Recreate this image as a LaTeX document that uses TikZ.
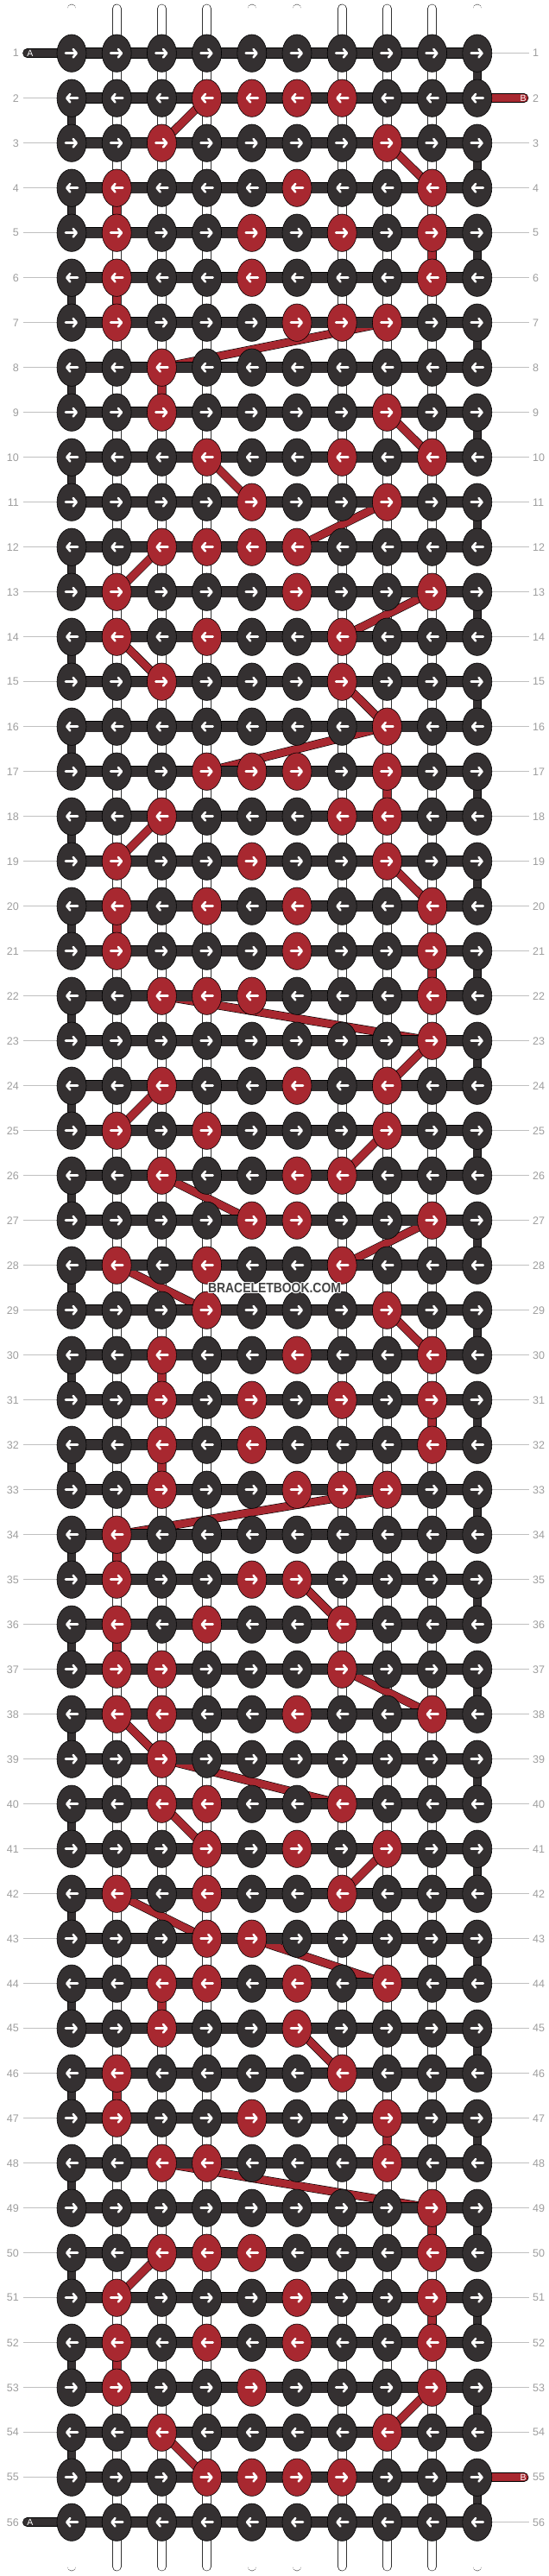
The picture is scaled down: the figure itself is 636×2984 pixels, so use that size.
\documentclass[tikz,border=0pt]{standalone}
\usepackage{fontspec}
\setmainfont{Liberation Sans}
\usepackage{tikz}
\usetikzlibrary{shapes.geometric, arrows.meta}
\definecolor{dark}{RGB}{52, 48, 49}
\definecolor{bred}{RGB}{168, 40, 48}
\definecolor{gray60}{RGB}{158, 158, 158}
\definecolor{gray75}{RGB}{192, 192, 192}
\definecolor{wmgray}{RGB}{68, 68, 68}
\pgfdeclarelayer{bg}
\pgfdeclarelayer{strings}
\pgfdeclarelayer{links}
\pgfdeclarelayer{bars}
\pgfsetlayers{bg, strings, links, bars, main}

% red knots: row/{columns}
\newcommand{\redrows}{2/{4,5,6,7}, 3/{3,8}, 4/{2,6,9}, 5/{2,5,7,9}, 6/{2,5,9},
  7/{2,6,7,8}, 8/{3}, 9/{3,8}, 10/{4,7,9}, 11/{5,8}, 12/{3,4,5,6}, 13/{2,6,9},
  14/{2,4,7}, 15/{3,7}, 16/{8}, 17/{4,5,6,8}, 18/{3,7,8}, 19/{2,5,8},
  20/{2,4,6,9}, 21/{2,6,9}, 22/{3,4,5,9}, 23/{9}, 24/{3,6,8}, 25/{2,4,8},
  26/{3,6,7}, 27/{5,6,9}, 28/{2,4,7}, 29/{4,8}, 30/{3,6,9}, 31/{3,5,7,9},
  32/{3,5,9}, 33/{3,6,7,8}, 34/{2}, 35/{2,5,6}, 36/{2,4,7}, 37/{2,3,7},
  38/{2,3,6,9}, 39/{3}, 40/{3,4,7}, 41/{4,6,8}, 42/{2,4,7}, 43/{4,5},
  44/{3,4,6,8}, 45/{3,6}, 46/{2,7}, 47/{2,5,8}, 48/{3,4,8}, 49/{9},
  50/{3,4,5,9}, 51/{2,6,9}, 52/{2,4,6,9}, 53/{2,5,9}, 54/{3,8}, 55/{4,5,6,7}}
\foreach \r/\cs in \redrows {
  \foreach \c in \cs {\expandafter\gdef\csname red\r-\c\endcsname{1}}
}

\begin{document}
\begin{tikzpicture}[x=1pt, y=-1pt,
    knot/.style={ellipse, draw=black, line width=0.6pt, minimum width=34pt,
      minimum height=43.4pt, inner sep=0pt},
    arr/.style={white, line width=2.6pt, line cap=round,
      -{Straight Barb[length=4pt, width=9.5pt, round]}},
    wstring/.style={draw=black!80, line width=0.6pt, double=white,
      double distance=9.4pt, line cap=round},
    hbar/.style={draw=black, line width=0.6pt, double=dark, double distance=11.6pt},
    dlink/.style={draw=black, line width=0.6pt, double=dark, double distance=9pt},
    rlink/.style={draw=black, line width=0.6pt, double=bred, double distance=8.6pt},
    stub/.style={draw=black, line width=0.6pt, double distance=9.4pt, line cap=round},
    rowlab/.style={text=gray60, inner sep=0pt, font=\fontsize{12.5}{12.5}\selectfont},
    labline/.style={draw=gray75, line width=0.9pt},
    endlab/.style={text=white, inner sep=0pt, font=\fontsize{10.5}{10.5}\selectfont},
    wmark/.style={inner sep=0pt, font=\fontsize{16}{16}\selectfont\bfseries}]

  \useasboundingbox (0,0) rectangle (636,2984);
  \begin{pgfonlayer}{bg}
    \fill[white] (0,0) rectangle (636,2984);
  \end{pgfonlayer}

  % knots, arrows and row numbers
  \foreach \r in {1,...,56} {
    \ifodd\r\relax \def\dir{1}\else \def\dir{-1}\fi
    \pgfmathsetmacro{\xa}{-7*\dir}
    \pgfmathsetmacro{\xb}{7*\dir}
    \foreach \c in {1,...,10} {
      \ifcsname red\r-\c\endcsname \def\kc{bred}\else \def\kc{dark}\fi
      \node[knot, fill=\kc] (k\r-\c) at ({83+52.2*(\c-1)}, {61.7+52*(\r-1)}) {};
      \draw[arr] ([xshift=\xa pt]k\r-\c.center) -- ([xshift=\xb pt]k\r-\c.center);
    }
    \node[rowlab, anchor=east] (ll\r) at (22, {61.7+52*(\r-1)}) {\r};
    \node[rowlab, anchor=west] (rl\r) at (617, {61.7+52*(\r-1)}) {\r};
  }

  % free ends
  \path (k1-1) ++(-51.5,0) coordinate (a1);
  \path (k56-1) ++(-51.5,0) coordinate (a2);
  \path (k2-10) ++(54.2,0) coordinate (b1);
  \path (k55-10) ++(54.2,0) coordinate (b2);

  \begin{pgfonlayer}{strings}
    \foreach \c in {1,...,10} {
      \path (k1-\c) ++(0,-51.7) coordinate (top\c);
      \path (k56-\c) ++(0,51.3) coordinate (bot\c);
      \draw[wstring] (top\c) -- (bot\c);
    }
    \foreach \r in {2,...,55}
      \draw[labline] ([xshift=4.5pt]ll\r.east) -- (k\r-1.west);
    \foreach \r in {1,3,4,...,54,56}
      \draw[labline] (k\r-10.east) -- ([xshift=-4pt]rl\r.west);
  \end{pgfonlayer}

  \begin{pgfonlayer}{links}
    % turns at the edges
    \foreach \r in {1,...,55} {
      \ifodd\r\relax \def\ec{10}\else \def\ec{1}\fi
      \pgfmathtruncatemacro{\rn}{\r+1}
      \draw[dlink] (k\r-\ec.center) -- (k\rn-\ec.center);
    }
    % red thread
    \foreach \ra/\ca/\rb/\cb in {2/4/3/3, 3/8/4/9, 4/2/5/2, 5/9/6/9, 6/2/7/2,
        7/8/8/3, 8/3/9/3, 9/8/10/9, 10/4/11/5, 11/8/12/6, 12/3/13/2, 13/9/14/7,
        14/2/15/3, 15/7/16/8, 16/8/17/4, 17/8/18/8, 18/3/19/2, 19/8/20/9,
        20/2/21/2, 21/9/22/9, 22/3/23/9, 23/9/24/8, 24/3/25/2, 25/8/26/7,
        26/3/27/5, 27/9/28/7, 28/2/29/4, 29/8/30/9, 30/3/31/3, 31/9/32/9,
        32/3/33/3, 33/8/34/2, 34/2/35/2, 35/6/36/7, 36/2/37/2, 37/7/38/9,
        38/2/39/3, 39/3/40/7, 40/3/41/4, 41/8/42/7, 42/2/43/4, 43/5/44/8,
        44/3/45/3, 45/6/46/7, 46/2/47/2, 47/8/48/8, 48/3/49/9, 49/9/50/9,
        50/3/51/2, 51/9/52/9, 52/2/53/2, 53/9/54/8, 54/3/55/4}
      \draw[rlink] (k\ra-\ca.center) -- (k\rb-\cb.center);
  \end{pgfonlayer}

  \begin{pgfonlayer}{bars}
    \foreach \r in {1,...,56}
      \draw[hbar] (k\r-1.center) -- (k\r-10.center);
    \draw[stub, double=dark] (k1-1.center) -- (a1);
    \draw[stub, double=dark] (k56-1.center) -- (a2);
    \draw[stub, double=bred] (k2-10.center) -- (b1);
    \draw[stub, double=bred] (k55-10.center) -- (b2);
  \end{pgfonlayer}

  \node[endlab] (la1) at ([xshift=3.5pt]a1) {A};
  \node[endlab] (la2) at ([xshift=3.5pt]a2) {A};
  \node[endlab] (lb1) at ([xshift=-1pt]b1) {B};
  \node[endlab] (lb2) at ([xshift=-1pt]b2) {B};

  % watermark
  \foreach \a in {0,45,...,315}
    \node[wmark, text=white, opacity=0.85, xshift={1.1*cos(\a)}, yshift={1.1*sin(\a)}]
      (wm\a) at (318,1492) {\scalebox{0.87}[1]{BRACELETBOOK.COM}};
  \node[wmark, text=wmgray] (wm) at (318,1492) {\scalebox{0.87}[1]{BRACELETBOOK.COM}};
\end{tikzpicture}
\end{document}
